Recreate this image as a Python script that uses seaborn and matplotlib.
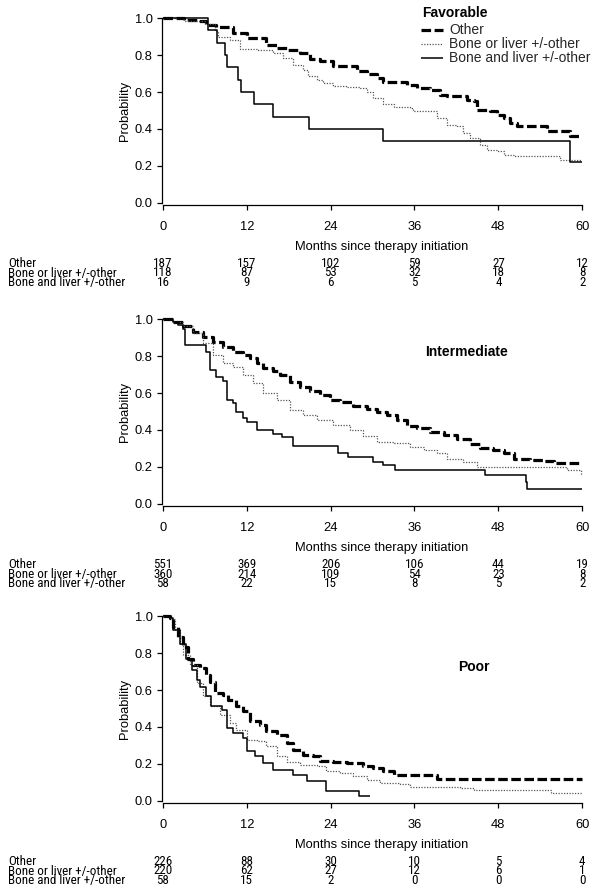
import numpy as np
import pandas as pd
import matplotlib
matplotlib.use('Agg')
import matplotlib.pyplot as plt
import matplotlib.transforms as mtransforms
from matplotlib import font_manager
import seaborn as sns

# --- Kaplan-Meier curves (months, survival) ---
months_ticks = [0, 12, 24, 36, 48, 60]
groups = ['Other', 'Bone or liver +/-other', 'Bone and liver +/-other']

# Favorable
fav_other_t = [0, 3, 4.8, 6.2, 7.6, 10, 12, 13.9, 14.8, 16.3, 17.7, 19.6, 21, 22.5, 24.4, 26.3, 27.7, 29.2,
               30.6, 31.5, 33.5, 34.9, 36.3, 38.2, 39.7, 40.6, 42.5, 43.5, 44.5, 44.9, 46.8, 47.8, 48.8,
               49.7, 50.7, 54.5, 55.0, 57.9, 58.3, 59.8]
fav_other_s = [1.0, 0.99, 0.985, 0.96, 0.95, 0.92, 0.892, 0.89, 0.856, 0.838, 0.829, 0.81, 0.778, 0.77,
               0.742, 0.74, 0.715, 0.697, 0.676, 0.656, 0.656, 0.64, 0.62, 0.609, 0.586, 0.577, 0.577,
               0.559, 0.55, 0.504, 0.495, 0.477, 0.46, 0.432, 0.414, 0.414, 0.387, 0.387, 0.364, 0.364]
fav_bol_t = [0, 3, 6, 7.5, 7.9, 9.6, 11, 13.4, 15.8, 17.2, 18.6, 20.1, 20.8, 22, 22.9, 24.4, 26.3, 28.2,
             29.2, 30.1, 31.5, 33, 35.4, 35.8, 38.2, 39.2, 40.6, 42.1, 43, 44, 45.4, 46.4, 47.8, 48.8,
             50.2, 56.4, 56.9, 60]
fav_bol_s = [1.0, 0.985, 0.97, 0.93, 0.90, 0.883, 0.832, 0.829, 0.81, 0.784, 0.748, 0.72, 0.688, 0.667,
             0.649, 0.63, 0.627, 0.62, 0.598, 0.568, 0.535, 0.519, 0.514, 0.495, 0.495, 0.459, 0.423,
             0.414, 0.378, 0.351, 0.315, 0.288, 0.279, 0.261, 0.256, 0.252, 0.23, 0.23]
fav_bal_t = [0, 6.5, 7.8, 8.85, 9.2, 10.75, 11.2, 13.0, 15.8, 20.9, 31.45, 58.2, 60]
fav_bal_s = [1.0, 0.9375, 0.867, 0.80, 0.733, 0.667, 0.60, 0.533, 0.467, 0.40, 0.333, 0.222, 0.222]

# Intermediate
int_other_t = [0, 1.4, 2.9, 4.3, 5.7, 7.2, 8.6, 10, 11.5, 12.4, 13.4, 14.3, 15.8, 16.7, 18.2, 19.6, 21,
               22.5, 23.9, 25.3, 27.2, 29.2, 30.6, 32, 33.5, 34.9, 36.3, 38.2, 40.2, 42.1, 44, 45.4,
               47.3, 48.8, 50.2, 52.6, 54.5, 55.9, 60]
int_other_s = [1.0, 0.985, 0.962, 0.93, 0.905, 0.877, 0.85, 0.823, 0.805, 0.787, 0.76, 0.733, 0.719,
               0.697, 0.661, 0.63, 0.613, 0.589, 0.562, 0.55, 0.53, 0.512, 0.5, 0.481, 0.454, 0.422,
               0.409, 0.391, 0.373, 0.35, 0.324, 0.304, 0.292, 0.274, 0.241, 0.238, 0.232, 0.223, 0.223]
int_bol_t = [0, 1.4, 2.9, 4.3, 5.7, 7.2, 8.6, 10, 11.5, 12.9, 14.3, 16.3, 18.2, 20.1, 22, 24.4, 26.8,
             28.7, 30.6, 33, 35.4, 37.3, 39.2, 40.6, 43, 44.9, 55.9, 57.8, 59.8]
int_bol_s = [1.0, 0.985, 0.962, 0.923, 0.868, 0.805, 0.76, 0.742, 0.697, 0.652, 0.598, 0.562, 0.508,
             0.481, 0.454, 0.427, 0.40, 0.368, 0.337, 0.328, 0.31, 0.292, 0.274, 0.241, 0.225, 0.202,
             0.202, 0.184, 0.157]
int_bal_t = [0, 1.5, 2.2, 2.8, 3.1, 6.2, 6.7, 7.6, 8.6, 9.2, 10, 10.5, 11.5, 12, 13.4, 15.8, 17, 18.6,
             25.1, 26.5, 30.1, 31.5, 33.2, 46.1, 51.9, 52.1, 60]
int_bal_s = [1.0, 0.983, 0.966, 0.948, 0.86, 0.823, 0.724, 0.685, 0.667, 0.562, 0.544, 0.5, 0.463,
             0.441, 0.40, 0.378, 0.36, 0.315, 0.274, 0.252, 0.229, 0.211, 0.184, 0.157, 0.121, 0.08, 0.08]

# Poor
poor_other_t = [0, 1.0, 1.4, 2.2, 2.9, 3.6, 4.3, 5.3, 6.2, 6.7, 7.4, 8.6, 9.3, 10.5, 11.5, 12.4, 13.9,
                14.8, 16.3, 17.7, 18.6, 20.1, 21.5, 22.5, 24.4, 26.3, 28.7, 30.1, 31.5, 33, 39.2, 60]
poor_other_s = [1.0, 0.99, 0.94, 0.887, 0.833, 0.77, 0.735, 0.717, 0.681, 0.645, 0.582, 0.573, 0.547,
                0.511, 0.484, 0.43, 0.412, 0.376, 0.358, 0.314, 0.278, 0.251, 0.242, 0.215, 0.211,
                0.206, 0.188, 0.179, 0.161, 0.138, 0.12, 0.12]
poor_bol_t = [0, 1.0, 1.7, 2.4, 2.9, 3.8, 4.8, 5.7, 6.7, 8.1, 9.6, 10.5, 12, 13.4, 14.8, 16.3, 17.7,
              19.6, 22, 23.4, 25.3, 27.2, 29.2, 31.1, 33.9, 35.4, 42.5, 44.5, 55.5, 60]
poor_bol_s = [1.0, 0.986, 0.923, 0.851, 0.789, 0.735, 0.636, 0.565, 0.511, 0.466, 0.421, 0.385, 0.332,
              0.323, 0.296, 0.242, 0.211, 0.197, 0.188, 0.161, 0.152, 0.134, 0.116, 0.099, 0.09, 0.077,
              0.072, 0.059, 0.045, 0.045]
poor_bal_t = [0, 1.0, 1.4, 2.4, 3.3, 4.1, 4.8, 5.3, 6.2, 6.9, 8.4, 9.1, 10, 11.5, 12, 13.1, 14.3, 15.8,
              18.6, 20.6, 23.4, 28, 29.6]
poor_bal_s = [1.0, 0.99, 0.923, 0.851, 0.77, 0.708, 0.654, 0.618, 0.565, 0.511, 0.493, 0.394, 0.367,
              0.34, 0.269, 0.242, 0.206, 0.17, 0.143, 0.108, 0.054, 0.027, 0.027]

# Numbers at risk
fav_risk = [[187, 157, 102, 59, 27, 12], [118, 87, 53, 32, 18, 8], [16, 9, 6, 5, 4, 2]]
int_risk = [[551, 369, 206, 106, 44, 19], [360, 214, 109, 54, 23, 8], [58, 22, 15, 8, 5, 2]]
poor_risk = [[226, 88, 30, 10, 5, 4], [220, 62, 27, 12, 6, 1], [58, 15, 2, 0, 0, 0]]

sns.set_theme(style='ticks')
plt.rcParams['font.family'] = ['Liberation Sans', 'DejaVu Sans']

installed = {f.name for f in font_manager.fontManager.ttflist}
narrow = next((n for n in ['Liberation Sans Narrow', 'Arial Narrow', 'DejaVu Sans Condensed', 'Roboto Condensed']
               if n in installed), None)
risk_font = dict(family=narrow, fontsize=9.4) if narrow else dict(family='Liberation Sans', fontsize=8.0)

W, H = 603, 896
fig = plt.figure(figsize=(W / 100, H / 100), dpi=100)

line_styles = {
    'Other': dict(color='black', lw=2.3, linestyle=(0, (3, 1.1))),
    'Bone or liver +/-other': dict(color='#555555', lw=0.9, linestyle=(0, (1, 1.2))),
    'Bone and liver +/-other': dict(color='black', lw=1.1, linestyle='-'),
}

panels = [
    dict(top=15.8, curves=[(fav_other_t, fav_other_s), (fav_bol_t, fav_bol_s), (fav_bal_t, fav_bal_s)],
         risk=fav_risk, name='Favorable'),
    dict(top=316.8, curves=[(int_other_t, int_other_s), (int_bol_t, int_bol_s), (int_bal_t, int_bal_s)],
         risk=int_risk, name='Intermediate', label_pos=(0.724, 0.814)),
    dict(top=613.8, curves=[(poor_other_t, poor_other_s), (poor_bol_t, poor_bol_s), (poor_bal_t, poor_bal_s)],
         risk=poor_risk, name='Poor', label_pos=(0.743, 0.719)),
]

ax_h = 189.4
ax_left, ax_right = 161.6, 582.5

for p in panels:
    ax = fig.add_axes([ax_left / W, 1 - (p['top'] + ax_h) / H, (ax_right - ax_left) / W, ax_h / H])
    for g, (t, s) in zip(groups, p['curves']):
        df = pd.DataFrame({'month': t, 'surv': s})
        sns.lineplot(data=df, x='month', y='surv', ax=ax, estimator=None, sort=False,
                     drawstyle='steps-post', label=g, solid_capstyle='butt',
                     dash_capstyle='butt', **line_styles[g])
    ax.set_xlim(-0.2, 60.05)
    ax.set_ylim(-0.012, 1.012)
    ax.set_xticks(months_ticks)
    ax.set_yticks([0, 0.2, 0.4, 0.6, 0.8, 1.0])
    ax.set_yticklabels(['0.0', '0.2', '0.4', '0.6', '0.8', '1.0'])
    sns.despine(ax=ax)
    ax.spines['left'].set_bounds(0, 1)
    ax.spines['bottom'].set_bounds(0, 60)
    for sp in ['left', 'bottom']:
        ax.spines[sp].set_color('black')
        ax.spines[sp].set_linewidth(0.9)
    ax.tick_params(axis='both', direction='out', length=3.8, width=0.9, color='black',
                   labelsize=9.3, labelcolor='black')
    ax.tick_params(axis='x', pad=7.5)
    ax.tick_params(axis='y', pad=2.5)
    ax.set_xlabel('Months since therapy initiation', fontsize=9.3, color='black')
    ax.xaxis.set_label_coords(0.523, -0.19)
    ax.set_ylabel('Probability', fontsize=9.3, color='black', labelpad=3)

    # numbers at risk table
    tr = mtransforms.blended_transform_factory(fig.transFigure, ax.transAxes)
    for i, (g, row) in enumerate(zip(groups, p['risk'])):
        ypos = -(58 + i * 9.8) / ax_h
        ax.text(8 / W, ypos, g, transform=tr, ha='left', va='center', color='black', **risk_font)
        for m, n in zip(months_ticks, row):
            ax.text(m, ypos, str(n), transform=ax.get_xaxis_transform(), ha='center', va='center',
                    color='black', **risk_font)

    if p['name'] == 'Favorable':
        leg = ax.legend(loc='upper left', bbox_to_anchor=(421 / W, 1 - 23.5 / H),
                        bbox_transform=fig.transFigure, frameon=False,
                        fontsize=10, handlelength=1.55, handletextpad=0.5,
                        labelspacing=0.0, borderpad=0, borderaxespad=0)
        fig.text(422.5 / W, 1 - 13.3 / H, 'Favorable', ha='left', va='center',
                 fontsize=10, fontweight='bold', color='black')
    else:
        ax.get_legend().remove()
        ax.text(*p['label_pos'], p['name'], transform=ax.transAxes, ha='center', va='center',
                fontsize=10, fontweight='bold', color='black')

fig.savefig('out.png', dpi=100)
